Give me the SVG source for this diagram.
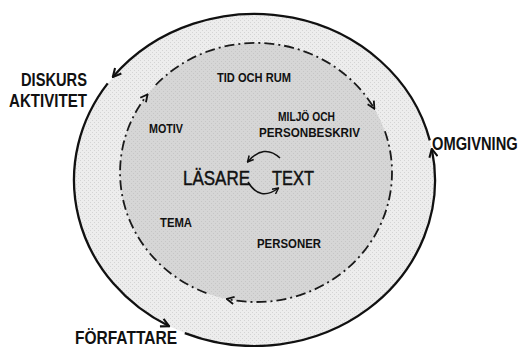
<svg xmlns="http://www.w3.org/2000/svg" width="521" height="347" viewBox="0 0 521 347">
  <style>
    .lbl { font-family: "Liberation Sans", Arial, sans-serif; font-weight: bold; fill: #111; }
    .big { font-size: 17.5px; }
    .sm { font-size: 12px; }
    .ctr { font-family: "Liberation Sans", Arial, sans-serif; font-size: 20px; fill: #111; stroke: #111; stroke-width: 0.45; }
    .outer { fill: none; stroke: #111; stroke-width: 2.3; marker-end: url(#ah); }
    .inner { fill: none; stroke: #1a1a1a; stroke-width: 1.8; stroke-dasharray: 10 4 2 4; marker-end: url(#ahs); }
    .cyc { fill: none; stroke: #111; stroke-width: 1.5; marker-end: url(#ahs); }
  </style>
  <defs>
    <pattern id="dotsOuter" width="4" height="4" patternUnits="userSpaceOnUse">
      <rect width="4" height="4" fill="#ededed"/>
      <rect x="0" y="0" width="1" height="1" fill="#d4d4d4"/>
      <rect x="2" y="2" width="1" height="1" fill="#d4d4d4"/>
    </pattern>
    <pattern id="dotsInner" width="4" height="4" patternUnits="userSpaceOnUse">
      <rect width="4" height="4" fill="#d6d6d6"/>
      <rect x="1" y="1" width="1" height="1" fill="#c6c6c6"/>
      <rect x="3" y="3" width="1" height="1" fill="#c6c6c6"/>
    </pattern>
    <marker id="ah" viewBox="0 0 10 10" refX="9" refY="5" markerWidth="4.5" markerHeight="4.5" markerUnits="strokeWidth" orient="auto">
      <path d="M1,1 L9,5 L1,9" fill="none" stroke="#111" stroke-width="2"/>
    </marker>
    <marker id="ahs" viewBox="0 0 10 10" refX="9" refY="5" markerWidth="5" markerHeight="5" markerUnits="strokeWidth" orient="auto">
      <path d="M1,1 L9,5 L1,9" fill="none" stroke="#111" stroke-width="2" stroke-dasharray="none"/>
    </marker>
  </defs>

  <g id="outer-ring">
    <ellipse cx="254.5" cy="180" rx="180.5" ry="166" fill="url(#dotsOuter)"/>
  </g>
  <g id="inner-circle">
    <ellipse cx="256" cy="172.5" rx="136" ry="129.5" fill="url(#dotsInner)"/>
  </g>

  <g id="connectors">
    <path class="outer" d="M429.8,140.4 A180.5,166 0 0 0 112.8,77.1"/>
    <path class="outer" d="M107.7,83.4 A180.5,166 0 0 0 169.2,326.3"/>
    <path class="outer" d="M184.8,333.1 A180.5,166 0 0 0 431.8,148.9"/>
    <path class="inner" d="M206.4,293.1 A136,129.5 0 0 1 147.6,94.4"/>
    <path class="inner" d="M155.7,85 A136,129.5 0 0 1 374.4,108.7"/>
    <path class="inner" d="M384.9,131.2 A136,129.5 0 0 1 226.8,299"/>
    <path class="cyc" d="M280,158 Q264,143 247.5,162"/>
    <path class="cyc" d="M248,182 Q260,202 278.5,188"/>
  </g>

  <g id="diskurs-aktivitet">
    <text class="lbl big" x="21" y="86" textLength="66" lengthAdjust="spacingAndGlyphs">DISKURS</text>
    <text class="lbl big" x="9" y="107" textLength="78" lengthAdjust="spacingAndGlyphs">AKTIVITET</text>
  </g>
  <g id="omgivning" transform="translate(432,150) scale(0.84,1)">
    <text class="lbl big" x="0" y="0">OMGIVNING</text>
  </g>
  <g id="forfattare">
    <text class="lbl big" x="75" y="343.5" textLength="102" lengthAdjust="spacingAndGlyphs">FÖRFATTARE</text>
  </g>
  <g id="tid-och-rum">
    <text class="lbl sm" x="217" y="82" textLength="74" lengthAdjust="spacingAndGlyphs">TID OCH RUM</text>
  </g>
  <g id="miljo">
    <text class="lbl sm" x="278" y="121" textLength="57" lengthAdjust="spacingAndGlyphs">MILJÖ OCH</text>
    <text class="lbl sm" x="259" y="137" textLength="101" lengthAdjust="spacingAndGlyphs">PERSONBESKRIV</text>
  </g>
  <g id="motiv">
    <text class="lbl sm" x="149" y="133" textLength="34" lengthAdjust="spacingAndGlyphs">MOTIV</text>
  </g>
  <g id="tema">
    <text class="lbl sm" x="160" y="227" textLength="32" lengthAdjust="spacingAndGlyphs">TEMA</text>
  </g>
  <g id="personer">
    <text class="lbl sm" x="257" y="248" textLength="64" lengthAdjust="spacingAndGlyphs">PERSONER</text>
  </g>
  <g id="lasare">
    <text class="ctr" x="183" y="185" textLength="67" lengthAdjust="spacingAndGlyphs">LÄSARE</text>
  </g>
  <g id="text">
    <text class="ctr" x="272" y="185" textLength="42" lengthAdjust="spacingAndGlyphs">TEXT</text>
  </g>
</svg>
